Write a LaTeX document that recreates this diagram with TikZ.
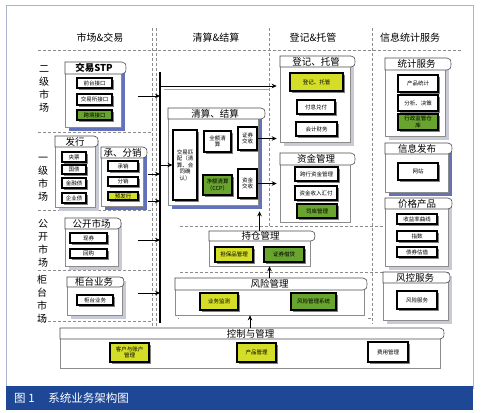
\documentclass[tikz,border=0pt]{standalone}
\usepackage{fontspec}
\setmainfont{Noto Sans CJK SC}
\usetikzlibrary{arrows.meta}
\definecolor{ylw}{RGB}{212,222,40}
\definecolor{grn}{RGB}{104,164,46}
\definecolor{bsh}{RGB}{100,115,185}
\definecolor{gsh}{RGB}{200,203,214}
\definecolor{barblue}{RGB}{30,72,150}
\definecolor{frm}{RGB}{170,180,205}
\definecolor{dsh}{RGB}{140,140,140}
\tikzset{
  bodyst/.style={draw=black!45, fill=white, line width=0.6pt, inner sep=0pt},
  tabst/.style={draw=black!70, fill=white, line width=0.6pt},
  tabtx/.style={font=\fontsize{9.5}{10}\selectfont, inner sep=0pt},
  innerst/.style={draw=black, line width=1.1pt, inner sep=0.5pt, align=center, font=\fontsize{5.5}{6.5}\selectfont},
  arr/.style={-{Stealth[length=5pt,width=4.5pt]}, line width=1pt},
  dline/.style={draw=dsh, line width=0.5pt, dash pattern=on 3pt off 2pt},
  colhd/.style={font=\fontsize{10}{11}\selectfont},
  rowhd/.style={font=\fontsize{10}{13}\selectfont, align=center},
}
\newcommand\mybody[6]{%
 \fill[#1] ({#3+4},{#4+4}) rectangle ({#5+4},{#6+4});
 \node[bodyst, minimum width={#5-#3}, minimum height={#6-#4}] (#2) at ({(#3+#5)/2},{(#4+#6)/2}) {};}
\newcommand\tabh[6]{%
 \draw[tabst] (#2,#3) -- ({#4-4},#3) .. controls ({#4-1},#3) and (#4,{#3+2}) .. (#4,{(#3+#5)/2}) .. controls (#4,{#5-2}) and ({#4-1},#5) .. ({#4-4},#5) -- (#2,#5) -- cycle;
 \node[tabtx] (#1) at ({(#2+#4-3)/2},{(#3+#5)/2}) {#6};}
\newcommand\ibx[7][white]{%
 \fill[black!50] ({#3+2},{#4+2}) rectangle ({#5+2},{#6+2});
 \node[innerst, fill=#1, minimum width={#5-#3}, minimum height={#6-#4}] (#2) at ({(#3+#5)/2},{(#4+#6)/2}) {#7};}
\begin{document}
\begin{tikzpicture}[x=1pt,y=-1pt]
\useasboundingbox (0,0) rectangle (486,412);
\fill[white] (0,0) rectangle (486,412);
% frame and caption bar
\draw[frm, line width=0.8pt] (6,5) rectangle (473,388);
\fill[barblue] (6,386) rectangle (473,410);
\node[text=white, anchor=west, font=\fontsize{11.5}{12}\selectfont, inner sep=0pt] (cap) at (14,398) {图 1\hspace{1.2em}系统业务架构图};
% column headers
\node[colhd] (h1) at (100,38) {市场\&交易};
\node[colhd] (h2) at (216,38) {清算\&结算};
\node[colhd] (h3) at (313,38) {登记\&托管};
\node[colhd] (h4) at (410,38) {信息统计服务};
% dashed grid
\draw[dline] (38,50) -- (462,50);
\draw[dline] (152,28) -- (152,326);
\draw[dline] (156,28) -- (156,326);
\draw[dline] (269,28) -- (269,226);
\draw[dline] (372,28) -- (372,324);
\draw[dline] (38,132) -- (152,132);
\draw[dline] (38,210) -- (152,210);
\draw[dline] (38,270) -- (152,270);
\draw[dline] (38,321) -- (152,321);
\draw[dline] (180,226) -- (385,226);
\draw[dline] (180,272) -- (383,272);
\draw[dline] (178,318) -- (372,318);
% row labels
\node[rowhd] (r1) at (44,89) {二\\级\\市\\场};
\node[rowhd] (r2) at (43,179) {一\\级\\市\\场};
\node[rowhd] (r3) at (43,243) {公\\开\\市\\场};
\node[rowhd] (r4) at (42,299) {柜\\台\\市\\场};
% ---- left column
\mybody{bsh}{stpb}{65}{62}{121}{127}
\tabh{stpt}{65}{62}{126}{74}{\textbf{交易STP}}
\ibx{s1}{77}{78}{112}{88}{前台接口}
\ibx{s2}{77}{94}{112}{105}{交易所接口}
\ibx[grn]{s3}{77}{110}{112}{120}{跨境接口}

\mybody{gsh}{fxb}{55}{136}{95}{207}
\tabh{fxt}{55}{136}{98}{147}{发行}
\ibx{f1}{62}{152}{86}{162}{央票}
\ibx{f2}{62}{165}{86}{174}{国债}
\ibx{f3}{62}{178}{86}{188}{金融债}
\ibx{f4}{62}{193}{86}{203}{企业债}

\mybody{bsh}{cxb}{101}{147}{143}{206}
\tabh{cxt}{101}{147}{147}{158}{承、分销}
\ibx{c1}{108}{161}{138}{171}{承销}
\ibx{c2}{108}{177}{138}{186}{分销}
\ibx[ylw]{c3}{108}{192}{138}{200}{预发行}

\mybody{gsh}{gkb}{65}{218}{118}{266}
\tabh{gkt}{65}{218}{121}{229}{公开市场}
\ibx{g1}{70}{233}{107}{243}{现券}
\ibx{g2}{70}{249}{107}{258}{回购}

\mybody{gsh}{gtb}{67}{277}{122}{315}
\tabh{gtt}{67}{277}{124}{287}{柜台业务}
\ibx{gt1}{77}{295}{113}{305}{柜台业务}
% ---- clearing
\mybody{bsh}{qsb}{168}{108}{258}{205}
\tabh{qst}{168}{108}{265}{119}{清算、结算}
\ibx{jypp}{173}{130}{197}{200}{交易匹\\配（清\\算、合\\同确\\认）}
\ibx{qe}{204}{131}{231}{152}{全额清\\算}
\ibx[grn]{ccp}{203}{175}{232}{195}{净额清算\\（CCP）}
\ibx{zqjs}{238}{127}{257}{150}{证券\\交收}
\ibx{zjjs}{238}{169}{257}{198}{资金\\交收}
% ---- registration
\mybody{gsh}{djb}{280}{56}{350}{142}
\tabh{djt}{280}{56}{355}{67}{登记、托管}
\ibx[ylw]{dj1}{290}{73}{343}{91}{登记、托管}
\ibx{dj2}{297}{100}{335}{114}{付息兑付}
\ibx{dj3}{296}{122}{337}{136}{会计财务}

\mybody{white}{zjb}{280}{153}{350}{222}
\tabh{zjt}{280}{153}{355}{165}{资金管理}
\ibx{zj1}{295}{167}{338}{181}{跨行资金管理}
\ibx{zj2}{295}{186}{337}{200}{资金收入汇付}
\ibx[grn]{zj3}{297}{204}{337}{218}{司库管理}
% ---- holdings / risk / control
\mybody{white}{ccb}{209}{231}{310}{266}
\tabh{cct}{209}{231}{315}{241}{持仓管理}
\ibx[ylw]{cc1}{215}{247}{253}{262}{担保品管理}
\ibx[grn]{cc2}{264}{247}{304}{262}{证券借贷}

\mybody{white}{fxrb}{175}{278}{364}{315}
\tabh{fxrt}{175}{278}{367}{290}{风险管理}
\ibx[ylw]{fr1}{200}{293}{238}{310}{业务监测}
\ibx[grn]{fr2}{291}{293}{336}{310}{风险管理系统}

\mybody{white}{kzb}{60}{328}{440}{368}
\tabh{kzt}{60}{328}{444}{339}{控制与管理}
\ibx[ylw]{kz1}{110}{343}{149}{362}{客户与账户\\管理}
\ibx[ylw]{kz2}{237}{343}{276}{362}{产品管理}
\ibx{kz3}{368}{342}{408}{362}{费用管理}
% ---- info services
\mybody{gsh}{tjb}{385}{58}{445}{136}
\tabh{tjt}{385}{58}{451}{70}{统计服务}
\ibx{tj1}{398}{75}{438}{92}{产品统计}
\ibx{tj2}{398}{95}{438}{111}{分析、决策}
\ibx[grn]{tj3}{398}{114}{438}{130}{行政监管仓\\库}

\mybody{bsh}{xxb}{385}{143}{448}{192}
\tabh{xxt}{385}{143}{452}{154}{信息发布}
\ibx{xx1}{398}{163}{438}{180}{网站}

\mybody{gsh}{jgb}{385}{198}{448}{266}
\tabh{jgt}{385}{198}{452}{209}{价格产品}
\ibx{jg1}{397}{214}{437}{224}{收益率曲线}
\ibx{jg2}{397}{231}{437}{241}{指数}
\ibx{jg3}{397}{247}{437}{257}{债券估值}

\mybody{gsh}{fkb}{383}{272}{448}{320}
\tabh{fkt}{383}{272}{450}{283}{风控服务}
\ibx{fk1}{397}{291}{437}{309}{风险服务}
% ---- bus and arrows
\coordinate (busT) at (160,72);
\coordinate (busB) at (160,323);
\draw[line width=1.6pt] (busT) -- (busB);
\coordinate (t0) at (160,86);
\draw[black!35, line width=0.8pt] (164,89) -- (270,89);
\draw[arr, shorten >=3pt] (t0) -- (t0 -| djb.west);
\coordinate (a1) at (138,96);
\coordinate (a2) at (148,174);
\coordinate (a3) at (148,201);
\coordinate (a4) at (138,240);
\coordinate (a5) at (138,293);
\foreach \p in {a1,a2,a3,a4,a5} \draw[arr] (\p) -- (\p -| busT);
\draw[arr] (jypp.west -| busT) -- (jypp.west);
\draw[arr, shorten >=3pt] (zqjs.east) -- (zqjs.east -| djb.west);
\draw[arr, shorten >=3pt] (zjjs.east) -- (zjjs.east -| zjb.west);
\draw[arr, shorten >=6pt] (ccb.north) -- (ccb.north |- qsb.south);
\draw[arr] (fxrb.north) -- (fxrb.north |- ccb.south);
\draw[arr] (kzb.north) -- (kzb.north |- fxrb.south);
\end{tikzpicture}
\end{document}
